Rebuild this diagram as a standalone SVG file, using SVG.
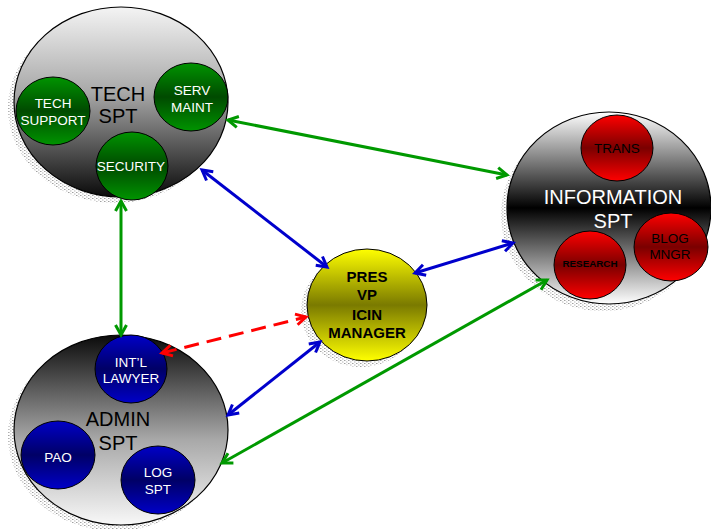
<svg xmlns="http://www.w3.org/2000/svg" width="711" height="529" viewBox="0 0 711 529">
<style>
.big{stroke:#000;stroke-width:1.2}
.sm{stroke:#000;stroke-width:1}
.shadow{fill:url(#dots)}
text{font-family:"Liberation Sans",Arial,sans-serif;text-anchor:middle}
.w{fill:#fff}
.k{fill:#000}
.b{font-weight:bold}
.con{fill:none;stroke-width:3}
</style>
<defs>
<pattern id="dots" width="4" height="3" patternUnits="userSpaceOnUse">
<rect x="0" y="0" width="1.5" height="1" fill="#a0a0a0"/>
<rect x="2" y="1.5" width="1.5" height="1" fill="#b8b8b8"/>
</pattern>
<linearGradient id="gTech" x1="0" y1="0" x2="0" y2="1">
<stop offset="0" stop-color="#f4f4f4"/><stop offset="0.45" stop-color="#a8a8a8"/><stop offset="1" stop-color="#0a0a0a"/>
</linearGradient>
<linearGradient id="gAdmin" x1="0" y1="0" x2="0" y2="1">
<stop offset="0" stop-color="#0a0a0a"/><stop offset="0.55" stop-color="#a8a8a8"/><stop offset="1" stop-color="#f8f8f8"/>
</linearGradient>
<linearGradient id="gInfo" x1="0" y1="0" x2="0" y2="1">
<stop offset="0" stop-color="#ffffff"/><stop offset="0.5" stop-color="#000000"/><stop offset="1" stop-color="#ffffff"/>
</linearGradient>
<linearGradient id="gGreen" x1="0" y1="0" x2="0" y2="1">
<stop offset="0" stop-color="#009400"/><stop offset="0.5" stop-color="#004a00"/><stop offset="1" stop-color="#009400"/>
</linearGradient>
<linearGradient id="gRed" x1="0" y1="0" x2="0" y2="1">
<stop offset="0" stop-color="#ff0000"/><stop offset="0.5" stop-color="#7a0000"/><stop offset="1" stop-color="#ff0000"/>
</linearGradient>
<linearGradient id="gBlue" x1="0" y1="0" x2="0" y2="1">
<stop offset="0" stop-color="#0000c8"/><stop offset="0.5" stop-color="#000066"/><stop offset="1" stop-color="#0000c8"/>
</linearGradient>
<linearGradient id="gYellow" x1="0" y1="0" x2="0" y2="1">
<stop offset="0" stop-color="#ffff00"/><stop offset="0.5" stop-color="#7a7a00"/><stop offset="1" stop-color="#ffff00"/>
</linearGradient>
<marker id="aG" markerUnits="userSpaceOnUse" markerWidth="16" markerHeight="16" refX="11" refY="6" orient="auto-start-reverse" overflow="visible">
<path d="M1,0.5 L11,6 L1,11.5" fill="none" stroke="#009900" stroke-width="3"/>
</marker>
<marker id="aB" markerUnits="userSpaceOnUse" markerWidth="16" markerHeight="16" refX="11" refY="6" orient="auto-start-reverse" overflow="visible">
<path d="M1,0.5 L11,6 L1,11.5" fill="none" stroke="#0000cc" stroke-width="3"/>
</marker>
<marker id="aR" markerUnits="userSpaceOnUse" markerWidth="16" markerHeight="16" refX="11" refY="6" orient="auto-start-reverse" overflow="visible">
<path d="M1,0.5 L11,6 L1,11.5" fill="none" stroke="#ff0000" stroke-width="3"/>
</marker>
</defs>
<rect width="711" height="529" fill="#fff"/>

<g id="tech-spt">
<ellipse class="shadow" cx="115" cy="108" rx="107" ry="95"/>
<ellipse class="big" cx="121" cy="102" rx="107" ry="95" fill="url(#gTech)"/>
<text class="k" x="118" y="101" font-size="20">TECH</text>
<text class="k" x="118" y="123" font-size="20">SPT</text>
</g>
<g id="tech-support">
<ellipse class="sm" cx="53" cy="111" rx="37" ry="34" fill="url(#gGreen)"/>
<text class="w" x="53" y="108" font-size="13.5">TECH</text>
<text class="w" x="53" y="125" font-size="13.5">SUPPORT</text>
</g>
<g id="serv-maint">
<ellipse class="sm" cx="191" cy="97" rx="37" ry="34" fill="url(#gGreen)"/>
<text class="w" x="192" y="95" font-size="13.5">SERV</text>
<text class="w" x="192" y="112" font-size="13.5">MAINT</text>
</g>
<g id="security">
<ellipse class="sm" cx="132" cy="166" rx="36" ry="34" fill="url(#gGreen)"/>
<text class="w" x="131" y="171" font-size="13.5">SECURITY</text>
</g>

<g id="information-spt">
<ellipse class="shadow" cx="603" cy="215" rx="102" ry="96"/>
<ellipse class="big" cx="609" cy="208" rx="102" ry="96" fill="url(#gInfo)"/>
<text class="w" x="613" y="204" font-size="20">INFORMATION</text>
<text class="w" x="613" y="228" font-size="20">SPT</text>
</g>
<g id="trans">
<ellipse class="sm" cx="617" cy="148" rx="36" ry="33" fill="url(#gRed)"/>
<text class="k" x="617" y="153" font-size="13.5">TRANS</text>
</g>
<g id="blog-mngr">
<ellipse class="sm" cx="671" cy="247" rx="37" ry="34" fill="url(#gRed)"/>
<text class="k" x="670" y="243" font-size="13.5">BLOG</text>
<text class="k" x="670" y="259" font-size="13.5">MNGR</text>
</g>
<g id="research">
<ellipse class="sm" cx="590" cy="265" rx="36" ry="34" fill="url(#gRed)"/>
<text class="k b" x="590" y="267" font-size="9.8">RESEARCH</text>
</g>

<g id="admin-spt">
<ellipse class="shadow" cx="115" cy="436" rx="107" ry="95"/>
<ellipse class="big" cx="121" cy="430" rx="107" ry="95" fill="url(#gAdmin)"/>
<text class="k" x="118" y="426" font-size="20">ADMIN</text>
<text class="k" x="118" y="450" font-size="20">SPT</text>
</g>
<g id="intl-lawyer">
<ellipse class="sm" cx="131" cy="369" rx="36" ry="34" fill="url(#gBlue)"/>
<text class="w" x="131" y="367" font-size="13.5">INT’L</text>
<text class="w" x="131" y="383" font-size="13.5">LAWYER</text>
</g>
<g id="pao">
<ellipse class="sm" cx="58" cy="455" rx="37" ry="34" fill="url(#gBlue)"/>
<text class="w" x="58" y="462" font-size="13.5">PAO</text>
</g>
<g id="log-spt">
<ellipse class="sm" cx="158" cy="480" rx="37" ry="34" fill="url(#gBlue)"/>
<text class="w" x="158" y="477" font-size="13.5">LOG</text>
<text class="w" x="158" y="494" font-size="13.5">SPT</text>
</g>

<g id="pres">
<ellipse class="shadow" cx="361" cy="311" rx="60" ry="56"/>
<ellipse class="sm" cx="367" cy="305" rx="60" ry="56" fill="url(#gYellow)"/>
<text class="k b" x="367" y="282" font-size="15">PRES</text>
<text class="k b" x="367" y="300" font-size="15">VP</text>
<text class="k b" x="367" y="320" font-size="15">ICIN</text>
<text class="k b" x="367" y="338" font-size="15">MANAGER</text>
</g>

<g id="connectors">
<line class="con" x1="228" y1="120" x2="507" y2="175" stroke="#009900" marker-start="url(#aG)" marker-end="url(#aG)"/>
<line class="con" x1="121" y1="201" x2="121" y2="335" stroke="#009900" marker-start="url(#aG)" marker-end="url(#aG)"/>
<line class="con" x1="222" y1="463" x2="547" y2="280" stroke="#009900" marker-start="url(#aG)" marker-end="url(#aG)"/>
<line class="con" x1="202" y1="170" x2="327" y2="267" stroke="#0000cc" marker-start="url(#aB)" marker-end="url(#aB)"/>
<line class="con" x1="415" y1="273" x2="513" y2="243" stroke="#0000cc" marker-start="url(#aB)" marker-end="url(#aB)"/>
<line class="con" x1="228" y1="415" x2="320" y2="342" stroke="#0000cc" marker-start="url(#aB)" marker-end="url(#aB)"/>
<line class="con" x1="162" y1="353" x2="306" y2="317" stroke="#ff0000" stroke-dasharray="15 8" marker-start="url(#aR)" marker-end="url(#aR)"/>
</g>
</svg>
